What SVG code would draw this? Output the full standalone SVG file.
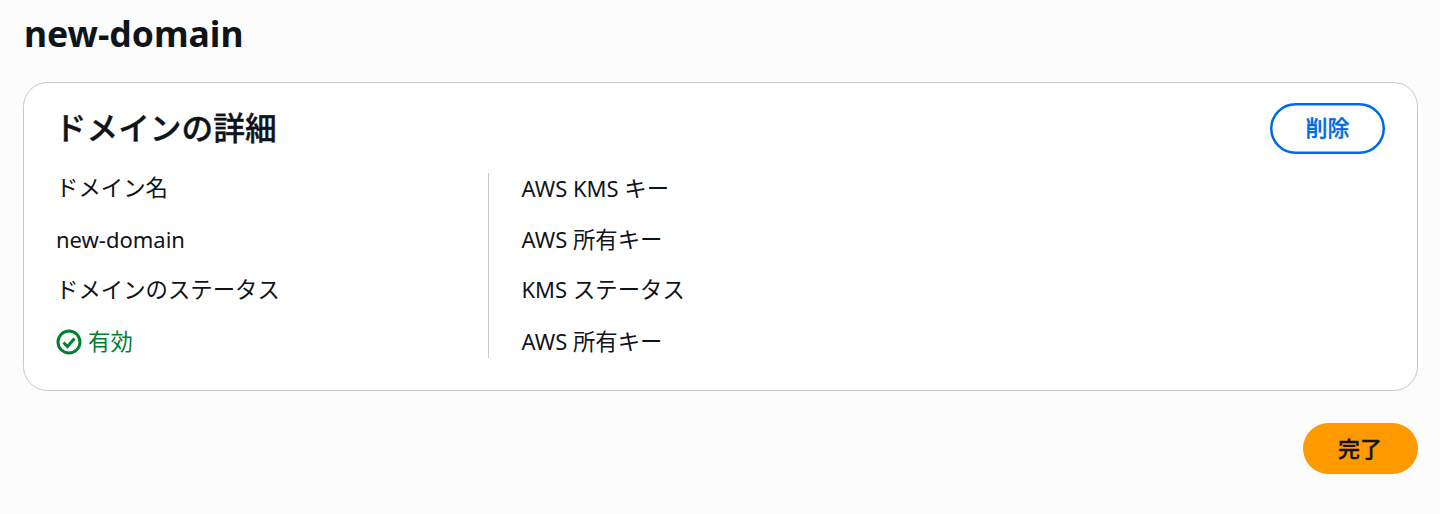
<svg xmlns="http://www.w3.org/2000/svg" width="1440" height="514" viewBox="0 0 1440 514">
<style>
text{font-family:"Noto Sans","Noto Sans CJK JP",sans-serif;fill:#0f141a;font-size:22px}
.b{font-weight:700}
.m{font-weight:500;stroke-width:.35px}
.j{font-size:22.400px}
</style>
<rect width="1440" height="514" fill="#fcfcfd"/>
<text class="b" x="24" y="47" style="font-size:35.500px">new-domain</text>
<g id="card">
<rect x="23.500" y="82.500" width="1394" height="308" rx="24" fill="#fff" stroke="#c6c6cd"/>
<text class="m" x="54.800" y="140" stroke="#0f141a" style="font-size:31.700px">ドメインの詳細</text>
<line x1="488.500" y1="173" x2="488.500" y2="358" stroke="#c6c6cd"/>
</g>
<g id="delete-button">
<rect x="1271.250" y="104.250" width="112.500" height="48.500" rx="24.250" fill="#fff" stroke="#006ce0" stroke-width="2.500"/>
<text class="m" x="1327.500" y="136" text-anchor="middle" stroke="#006ce0" style="font-size:22px;fill:#006ce0">削除</text>
</g>
<g id="domain-details">
<text class="j" x="56" y="196">ドメイン名</text>
<text x="56" y="248">new-domain</text>
<text class="j" x="56" y="298">ドメインのステータス</text>
<circle cx="69" cy="342" r="11" fill="none" stroke="#00802f" stroke-width="3"/>
<path d="M63.500 342.500l4 4 7-8" fill="none" stroke="#00802f" stroke-width="3"/>
<text class="j" x="88" y="350" style="fill:#00802f">有効</text>
</g>
<g id="kms-details">
<text x="521.500" y="197">AWS KMS <tspan class="j">キー</tspan></text>
<text x="521.500" y="248">AWS <tspan class="j">所有キー</tspan></text>
<text x="521.500" y="298">KMS <tspan class="j">ステータス</tspan></text>
<text x="521.500" y="350">AWS <tspan class="j">所有キー</tspan></text>
</g>
<g id="done-button">
<rect x="1303" y="423" width="115" height="51" rx="25.500" fill="#ff9900"/>
<text class="m" x="1360" y="457" text-anchor="middle" stroke="#0f141a" style="font-size:22px">完了</text>
</g>
</svg>
